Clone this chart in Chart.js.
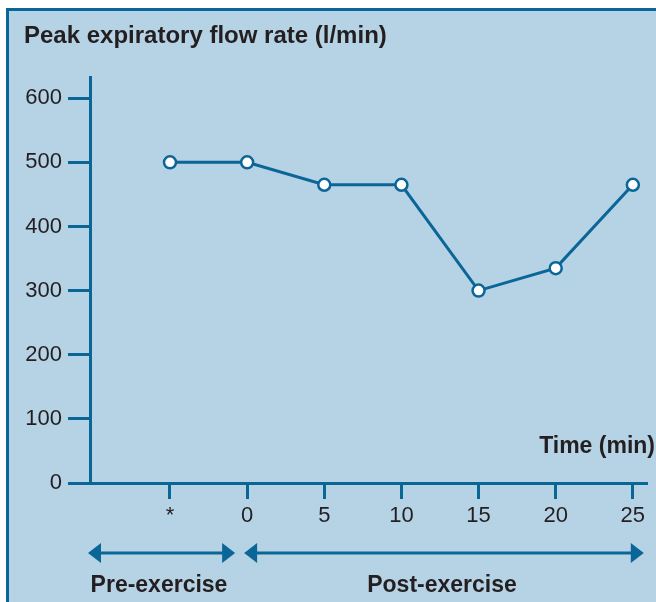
<!DOCTYPE html>
<html>
<head>
<meta charset="utf-8">
<script src="https://cdn.jsdelivr.net/npm/chart.js@4/dist/chart.umd.min.js"></script>
<style>
  html, body { margin: 0; padding: 0; background: #fff; }
  #wrap { width: 656px; height: 602px; position: relative; }
</style>
</head>
<body>
<div id="wrap"><canvas id="pefChart" width="656" height="602"></canvas></div>
<script>
// Time points (category labels) and peak flow readings
const timeLabels = ['*', '0', '5', '10', '15', '20', '25'];
const peakFlow = [500, 500, 465, 465, 300, 335, 465];
const yTickValues = [0, 100, 200, 300, 400, 500, 600];

const BLUE = '#0b6698';
const PANEL = '#b6d2e5';
const INK = '#231f20';
const FONT = "'Liberation Sans', Arial, sans-serif";

// frame, title, arrows and phase labels
const decorations = {
    id: 'decorations',
    beforeDraw(chart) {
        const c = chart.ctx;
        c.save();
        c.fillStyle = '#fff';
        c.fillRect(0, 0, chart.width, chart.height);
        c.fillStyle = PANEL;
        c.fillRect(7, 9, chart.width - 7, chart.height - 9);
        c.strokeStyle = BLUE;
        c.lineWidth = 3;
        c.beginPath();
        c.moveTo(7.5, chart.height);
        c.lineTo(7.5, 9.5);
        c.lineTo(chart.width, 9.5);
        c.stroke();
        c.restore();
    },
    afterDraw(chart) {
        const c = chart.ctx;
        const x = chart.scales.x;
        const area = chart.chartArea;
        c.save();
        c.fillStyle = INK;
        c.textBaseline = 'middle';
        c.textAlign = 'left';
        c.font = 'bold 24px ' + FONT;
        c.fillText('Peak expiratory flow rate (l/min)', 24, 36);
        c.font = 'bold 23px ' + FONT;
        c.textAlign = 'right';
        c.fillText('Time (min)', 655, 447);

        const ay = 553;
        const preL = area.left - 2, preR = x.getPixelForValue(1) - 12;
        const postL = x.getPixelForValue(1) - 3, postR = x.getPixelForValue(6) + 11;
        drawArrow(c, preL, preR, ay, true, true);
        drawArrow(c, postL, postR, ay, true, true);

        c.fillStyle = INK;
        c.textAlign = 'center';
        c.fillText('Pre-exercise', 159, 586);
        c.fillText('Post-exercise', 442, 586);
        c.restore();
    }
};

function drawArrow(c, x1, x2, y, headL, headR) {
    const hl = 13, hw = 10;
    c.strokeStyle = BLUE;
    c.fillStyle = BLUE;
    c.lineWidth = 3;
    c.beginPath();
    c.moveTo(x1 + (headL ? hl - 2 : 0), y);
    c.lineTo(x2 - (headR ? hl - 2 : 0), y);
    c.stroke();
    if (headL) {
        c.beginPath();
        c.moveTo(x1, y);
        c.lineTo(x1 + hl, y - hw);
        c.lineTo(x1 + hl, y + hw);
        c.closePath();
        c.fill();
    }
    if (headR) {
        c.beginPath();
        c.moveTo(x2, y);
        c.lineTo(x2 - hl, y - hw);
        c.lineTo(x2 - hl, y + hw);
        c.closePath();
        c.fill();
    }
}

const ctx = document.getElementById('pefChart').getContext('2d');

new Chart(ctx, {
    type: 'line',
    data: {
        datasets: [{
            label: 'Peak expiratory flow rate',
            data: peakFlow.map((v, i) => ({ x: i, y: v })),
            borderColor: BLUE,
            borderWidth: 3,
            pointBackgroundColor: '#fff',
            pointBorderColor: BLUE,
            pointBorderWidth: 2.5,
            pointRadius: 6,
            tension: 0,
            clip: false
        }]
    },
    options: {
        responsive: false,
        animation: false,
        events: [],
        layout: { padding: { top: 77, right: 0, left: 0, bottom: 0 } },
        plugins: {
            legend: { display: false },
            title: { display: false },
            tooltip: { enabled: false }
        },
        scales: {
            x: {
                type: 'linear',
                min: -1.037,
                max: 6.19,
                afterBuildTicks: s => { s.ticks = timeLabels.map((t, i) => ({ value: i })); },
                afterFit: s => { s.height = 119; s.paddingLeft = 0; s.paddingRight = 0; },
                grid: {
                    drawOnChartArea: false,
                    drawTicks: true,
                    tickLength: 16,
                    tickWidth: 3,
                    tickColor: BLUE
                },
                border: { display: true, color: BLUE, width: 3 },
                ticks: {
                    autoSkip: false,
                    maxRotation: 0,
                    padding: 4,
                    color: INK,
                    font: { family: FONT, size: 22 },
                    callback: v => timeLabels[v]
                }
            },
            y: {
                min: 0,
                max: 633,
                afterBuildTicks: s => { s.ticks = yTickValues.map(v => ({ value: v })); },
                afterFit: s => { s.width = 90; s.paddingTop = 0; s.paddingBottom = 0; },
                grid: {
                    drawOnChartArea: false,
                    drawTicks: true,
                    tickLength: 22,
                    tickWidth: 3,
                    tickColor: BLUE
                },
                border: { display: true, color: BLUE, width: 3 },
                ticks: {
                    padding: 6,
                    color: INK,
                    font: { family: FONT, size: 22 }
                }
            }
        }
    },
    plugins: [decorations]
});
</script>
</body>
</html>
